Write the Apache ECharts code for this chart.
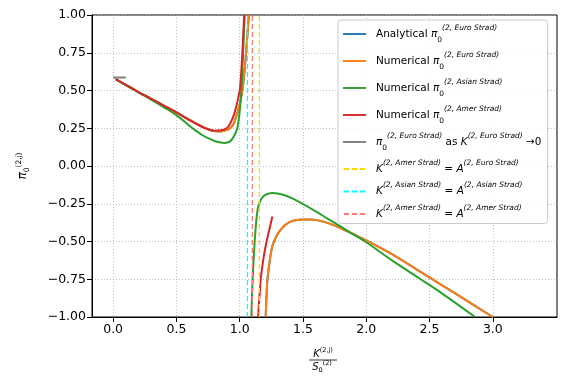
<!DOCTYPE html>
<html>
<head>
<meta charset="utf-8">
<script src="https://cdn.jsdelivr.net/npm/echarts@6/dist/echarts.min.js"></script>
<style>
  html, body { margin: 0; padding: 0; background: #fff; }
  #chart { width: 565px; height: 386px; }
</style>
</head>
<body>
<div id="chart"></div>
<script>
// x ticks shown on the bottom axis
const xTicks = [0, 0.5, 1, 1.5, 2, 2.5, 3]

// euro strad (analytical and numerical overlap), left and right branch
const euroLeft = [[0.02, 0.575], [0.1, 0.537], [0.2, 0.49], [0.3, 0.445], [0.4, 0.4], [0.5, 0.355], [0.6, 0.307],
  [0.7, 0.262], [0.76, 0.24], [0.8, 0.231], [0.84, 0.229], [0.88, 0.233], [0.91, 0.242], [0.93, 0.254],
  [0.955, 0.285], [0.977, 0.34], [1.0, 0.41], [1.021, 0.5], [1.035, 0.6], [1.05, 0.75], [1.062, 0.88], [1.072, 1.0]]
const euroRight = [[1.205, -1], [1.211, -0.88], [1.219, -0.753], [1.235, -0.64], [1.258, -0.532], [1.29, -0.465],
  [1.324, -0.422], [1.36, -0.39], [1.403, -0.368], [1.45, -0.358], [1.5, -0.354], [1.55, -0.354], [1.62, -0.36],
  [1.7, -0.378], [1.8, -0.412], [1.9, -0.452], [2.0, -0.492], [2.2, -0.582], [2.4, -0.686], [2.6, -0.79],
  [2.8, -0.895], [3.0, -1.0]]

// asian strad
const asianLeft = [[0.02, 0.575], [0.1, 0.535], [0.2, 0.487], [0.3, 0.44], [0.4, 0.39], [0.5, 0.337], [0.6, 0.268],
  [0.65, 0.236], [0.7, 0.207], [0.75, 0.184], [0.8, 0.166], [0.85, 0.155], [0.876, 0.152], [0.91, 0.157],
  [0.935, 0.172], [0.955, 0.198], [0.97, 0.224], [0.982, 0.252], [1.0, 0.36], [1.013, 0.5], [1.027, 0.75], [1.04, 1.0]]
const asianRight = [[1.092, -1], [1.1, -0.8], [1.106, -0.68], [1.113, -0.576], [1.12, -0.48], [1.127, -0.4],
  [1.135, -0.33], [1.145, -0.275], [1.166, -0.225], [1.19, -0.199], [1.22, -0.185], [1.26, -0.179], [1.3, -0.182],
  [1.35, -0.192], [1.403, -0.21], [1.48, -0.243], [1.6, -0.3], [1.7, -0.352], [1.8, -0.402], [1.9, -0.455],
  [2.0, -0.505], [2.2, -0.623], [2.43, -0.75], [2.6, -0.845], [2.86, -1.0]]

// american strad
const amerLeft = [[0.02, 0.575], [0.1, 0.537], [0.2, 0.49], [0.3, 0.445], [0.4, 0.4], [0.5, 0.355], [0.6, 0.305],
  [0.7, 0.26], [0.75, 0.243], [0.8, 0.234], [0.85, 0.236], [0.88, 0.243], [0.905, 0.256], [0.93, 0.29],
  [0.955, 0.34], [0.98, 0.42], [1.0, 0.5], [1.012, 0.62], [1.021, 0.75], [1.035, 1.0]]
const amerRight = [[1.145, -1], [1.149, -0.95], [1.153, -0.9], [1.16, -0.82], [1.166, -0.75], [1.178, -0.67],
  [1.19, -0.6], [1.205, -0.53], [1.22, -0.47], [1.24, -0.4], [1.258, -0.334]]

// limit as K -> 0
const limitSeg = [[0, 0.586], [0.1, 0.586]]

// vertical reference lines (x positions)
const amerEuroA = 1.155
const asianA = 1.061
const amerA = 1.10

const FONT = "DejaVu Sans"
const chart = echarts.init(document.getElementById("chart"), null, { renderer: "canvas" })

const legendText = {
  ana: "{t|Analytical }{i|π}{b|0}{s|(2, Euro Strad)}",
  numE: "{t|Numerical }{i|π}{b|0}{s|(2, Euro Strad)}",
  numA: "{t|Numerical }{i|π}{b|0}{s|(2, Asian Strad)}",
  numAm: "{t|Numerical }{i|π}{b|0}{s|(2, Amer Strad)}",
  lim: "{i|π}{b|0}{s|(2, Euro Strad)}{t| as }{i|K}{s|(2, Euro Strad)}{t| →0}",
  lineE: "{i|K}{s|(2, Amer Strad)}{t| = }{i|A}{s|(2, Euro Strad)}",
  lineA: "{i|K}{s|(2, Asian Strad)}{t| = }{i|A}{s|(2, Asian Strad)}",
  lineAm: "{i|K}{s|(2, Amer Strad)}{t| = }{i|A}{s|(2, Amer Strad)}"
}
const solidIcon = "path://M0,0h24v2h-24z"
const dashIcon = "path://M0,0h5v2h-5z M8,0h5v2h-5z M16,0h5v2h-5z"

function curve(name, color, data) {
  return {
    name: name,
    type: "line",
    data: data,
    symbol: "none",
    smooth: 0.35,
    clip: true,
    lineStyle: { color: color, width: 2 },
    itemStyle: { color: color },
    emphasis: { disabled: true }
  }
}
function vline(name, color, x) {
  return {
    name: name,
    type: "line",
    data: [[x, -1], [x, 1]],
    symbol: "none",
    lineStyle: { color: color, width: 1.3, type: [5, 3] },
    itemStyle: { color: color },
    emphasis: { disabled: true }
  }
}
const fmtNum = (v, d) => v.toFixed(d).replace("-", "\u2212")

const nameRich = {
  n: { fontSize: 10, lineHeight: 14, fontStyle: "italic", fontFamily: FONT, fill: "#000", color: "#000" },
  s: { fontSize: 6.5, lineHeight: 8, verticalAlign: "top", fontFamily: FONT, fill: "#000", color: "#000" },
  b: { fontSize: 6.5, lineHeight: 7, verticalAlign: "bottom", fontFamily: FONT, fill: "#000", color: "#000" }
}
const yNameRich = {
  n: { fontSize: 12, lineHeight: 16, fontStyle: "italic", fontFamily: FONT, color: "#000" },
  s: { fontSize: 7.5, lineHeight: 8, verticalAlign: "top", fontFamily: FONT, color: "#000" },
  b: { fontSize: 7.5, lineHeight: 8, verticalAlign: "bottom", fontFamily: FONT, color: "#000" }
}

const option = {
  animation: false,
  backgroundColor: "#fff",
  grid: { left: 92, right: 8, top: 15, bottom: 69, show: true, borderColor: "#000", borderWidth: 1, backgroundColor: "transparent" },
  legend: {
    orient: "vertical",
    left: 338,
    top: 20,
    itemWidth: 23,
    itemHeight: 2,
    itemGap: 7,
    padding: [4, 6, 4, 5],
    backgroundColor: "rgba(255,255,255,0.8)",
    borderColor: "#cccccc",
    borderWidth: 1,
    borderRadius: 3,
    data: [
      { name: "ana", icon: solidIcon },
      { name: "numE", icon: solidIcon },
      { name: "numA", icon: solidIcon },
      { name: "numAm", icon: solidIcon },
      { name: "lim", icon: solidIcon },
      { name: "lineE", icon: dashIcon },
      { name: "lineA", icon: dashIcon },
      { name: "lineAm", icon: dashIcon }
    ],
    formatter: (n) => legendText[n],
    textStyle: {
      fontFamily: FONT,
      padding: [0, 0, 0, 5],
      rich: {
        t: { fontSize: 10.5, lineHeight: 20, fontFamily: FONT, color: "#000" },
        i: { fontSize: 10.5, lineHeight: 20, fontFamily: FONT, fontStyle: "italic", color: "#000" },
        s: { fontSize: 7.5, lineHeight: 10, verticalAlign: "top", fontFamily: FONT, fontStyle: "italic", color: "#000" },
        b: { fontSize: 7.5, lineHeight: 10, verticalAlign: "bottom", fontFamily: FONT, color: "#000" }
      }
    }
  },
  graphic: [
    { type: "text", x: 323, y: 354, style: { text: "{n|K}{s|(2,j)}", rich: nameRich, align: "center", verticalAlign: "middle" } },
    { type: "line", shape: { x1: 309, y1: 360, x2: 337, y2: 360 }, style: { stroke: "#000", lineWidth: 0.8 } },
    { type: "text", x: 322, y: 367, style: { text: "{n|S}{b|0}{s|(2)}", rich: nameRich, align: "center", verticalAlign: "middle" } }
  ],
  xAxis: {
    type: "value",
    min: -0.167,
    max: 3.507,
    axisLine: { show: true, onZero: false, lineStyle: { color: "#000", width: 1 } },
    axisTick: { show: true, length: 5, customValues: xTicks, lineStyle: { color: "#000" } },
    axisLabel: { customValues: xTicks, color: "#000", fontSize: 12.5, fontFamily: FONT, margin: 6, formatter: (v) => fmtNum(v, 1) },
    splitLine: { show: true, lineStyle: { color: "#b0b0b0", type: [1, 2], width: 0.8 } }
  },
  yAxis: {
    type: "value",
    min: -1,
    max: 1,
    interval: 0.25,
    name: "{n|π}{b|0}{s|(2,j)}",
    nameLocation: "middle",
    nameRotate: 90,
    nameGap: 61,
    nameTextStyle: { fontFamily: FONT, rich: yNameRich },
    axisLine: { show: true, onZero: false, lineStyle: { color: "#000", width: 1 } },
    axisTick: { show: true, length: 5, lineStyle: { color: "#000" } },
    axisLabel: { color: "#000", fontSize: 12.5, fontFamily: FONT, margin: 6, formatter: (v) => fmtNum(v, 2) },
    splitLine: { show: true, lineStyle: { color: "#b0b0b0", type: [1, 2], width: 0.8 } }
  },
  series: [
    curve("ana", "#1f77b4", euroLeft),
    curve("ana", "#1f77b4", euroRight),
    curve("numE", "#ff7f0e", euroLeft),
    curve("numE", "#ff7f0e", euroRight),
    curve("numA", "#2ca02c", asianLeft),
    curve("numA", "#2ca02c", asianRight),
    curve("numAm", "#d62728", amerLeft),
    curve("numAm", "#d62728", amerRight),
    curve("lim", "#7f7f7f", limitSeg),
    vline("lineE", "#ffd700", amerEuroA),
    vline("lineA", "#00ffff", asianA),
    vline("lineAm", "#fa7f72", amerA)
  ]
}
chart.setOption(option)
</script>
</body>
</html>
